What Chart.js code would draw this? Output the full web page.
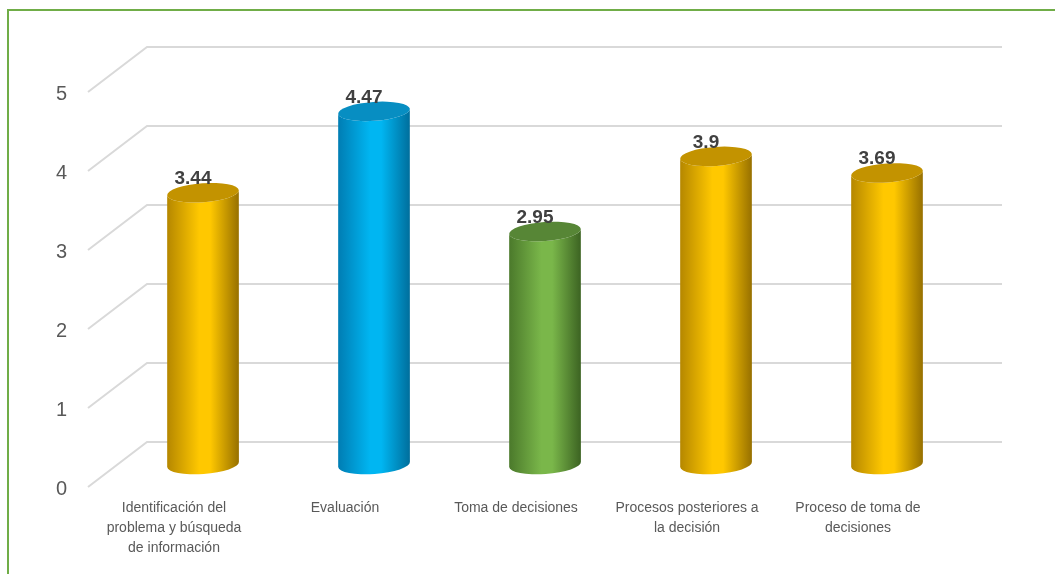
<!DOCTYPE html>
<html>
<head>
<meta charset="utf-8">
<script src="https://cdn.jsdelivr.net/npm/chart.js@4.4.1/dist/chart.umd.min.js"></script>
<style>
  html, body { margin: 0; padding: 0; background: #fff; overflow: hidden; }
  #wrap { position: relative; width: 1055px; height: 574px; }
  #frame { position: absolute; left: 7px; top: 9px; width: 1200px; height: 700px;
           border: 2px solid #70AD47; box-sizing: border-box; pointer-events: none; }
  canvas { position: absolute; left: 0; top: 0; }
</style>
</head>
<body>
<div id="wrap">
  <canvas id="chart" width="1055" height="574"></canvas>
  <div id="frame"></div>
</div>
<script>
// data
const categories = [
  ["Identificación del", "problema y búsqueda", "de información"],
  "Evaluación",
  "Toma de decisiones",
  ["Procesos posteriores a", "la decisión"],
  ["Proceso de toma de", "decisiones"]
];
const values = [3.44, 4.47, 2.95, 3.9, 3.69];
const yTicks = [0, 1, 2, 3, 4, 5];

// cylinder colours: [left edge, centre, right edge, cap]
const gold = ["#B58700", "#FFC800", "#977000", "#C39300"];
const blue = ["#007DB3", "#00B6F2", "#006E9C", "#078EC2"];
const green = ["#4B792B", "#7AB74A", "#3C6322", "#578636"];
const barPalette = [gold, blue, green, gold, gold];

// depth of the fake 3D box (front / back planes around the bars)
const DX = 29.5;
const DY = 22.5;
const RY = 9.5;    // vertical radius of cylinder caps
const TILT = -0.07;

const threeD = {
  id: "threeD",
  beforeDatasetsDraw(chart) {
    const ctx = chart.ctx;
    const y = chart.scales.y;
    const area = chart.chartArea;
    ctx.save();
    ctx.strokeStyle = "#D9D9D9";
    ctx.lineWidth = 2;
    yTicks.forEach((v) => {
      const py = y.getPixelForValue(v);
      ctx.beginPath();
      ctx.moveTo(area.left - DX, py + DY);
      ctx.lineTo(area.left + DX, py - DY);
      ctx.lineTo(area.right + DX, py - DY);
      ctx.stroke();
    });
    ctx.restore();
  },
  afterDatasetsDraw(chart) {
    const ctx = chart.ctx;
    const meta = chart.getDatasetMeta(0);
    meta.data.forEach((bar, i) => {
      const c = barPalette[i];
      const rx = bar.width / 2;
      const x = bar.x;
      const top = bar.y;
      const base = bar.base;

      ctx.save();
      const g = ctx.createLinearGradient(x - rx, 0, x + rx, 0);
      g.addColorStop(0, c[0]);
      g.addColorStop(0.45, c[1]);
      g.addColorStop(0.6, c[1]);
      g.addColorStop(1, c[2]);

      // body with rounded bottom
      ctx.beginPath();
      ctx.ellipse(x, top, rx, RY, TILT, Math.PI, 0, true);
      ctx.lineTo(x + rx, base);
      ctx.ellipse(x, base, rx, RY, TILT, 0, Math.PI, false);
      ctx.closePath();
      ctx.fillStyle = g;
      ctx.fill();

      // top cap
      ctx.beginPath();
      ctx.ellipse(x, top, rx, RY, TILT, 0, Math.PI * 2);
      ctx.fillStyle = c[3];
      ctx.fill();

      // value label
      ctx.fillStyle = "#404040";
      ctx.font = "bold 19px 'Liberation Sans', Arial, sans-serif";
      ctx.textAlign = "center";
      ctx.textBaseline = "alphabetic";
      ctx.fillText(String(values[i]), x - 10, top - RY + 1);
      ctx.restore();
    });
  }
};

new Chart(document.getElementById("chart"), {
  type: "bar",
  data: {
    labels: categories,
    datasets: [
      {
        data: values,
        backgroundColor: "rgba(0,0,0,0)",
        borderWidth: 0,
        categoryPercentage: 1,
        barPercentage: 0.42
      }
    ]
  },
  options: {
    responsive: false,
    animation: false,
    devicePixelRatio: 1,
    layout: { padding: { top: 69.5, right: 82.5, left: 0, bottom: 0 } },
    plugins: { legend: { display: false }, tooltip: { enabled: false } },
    scales: {
      x: {
        grid: { display: false, drawTicks: false },
        border: { display: false },
        ticks: {
          autoSkip: false,
          maxRotation: 0,
          padding: 33.5,
          labelOffset: -29,
          color: "#595959",
          font: { family: "'Liberation Sans', Arial, sans-serif", size: 14, lineHeight: 1.43 }
        },
        afterFit(scale) { scale.height = 109.5; }
      },
      y: {
        min: 0,
        max: 5,
        grid: { display: false, drawTicks: false },
        border: { display: false },
        afterBuildTicks(scale) { scale.ticks = yTicks.map((v) => ({ value: v })); },
        ticks: {
          padding: 50.5,
          labelOffset: 25,
          color: "#595959",
          font: { family: "'Liberation Sans', Arial, sans-serif", size: 20 }
        },
        afterFit(scale) { scale.width = 117.5; }
      }
    }
  },
  plugins: [threeD]
});
</script>
</body>
</html>
